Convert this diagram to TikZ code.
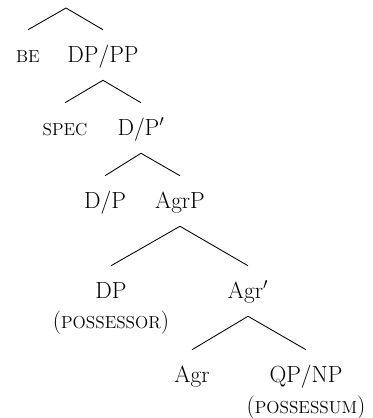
\documentclass[tikz,border=0pt]{standalone}
\usepackage{fontspec}
\setmainfont{Latin Modern Roman}
\newcommand\fakesc[1]{{\fontsize{13}{15}\selectfont\uppercase{#1}}}
\begin{document}
\begin{tikzpicture}[x=0.75pt,y=-0.75pt,
  lab/.style={anchor=base,inner sep=0pt,text height=24pt,text depth=13.5pt,font=\fontsize{17.5}{20}\selectfont},
  sub/.style={anchor=base,inner sep=0pt,font=\fontsize{17.5}{20}\selectfont},
  branch/.style={draw=black,line width=0.65pt}]
\useasboundingbox (0,0) rectangle (373,418);
\coordinate (top) at (66,8);
\node[lab] (be) at (28,62) {\fakesc{be}};
\node[lab] (dppp) at (103,62) {DP/PP};
\node[lab] (spec) at (65,135) {\fakesc{spec}};
\node[lab] (dpbar) at (141,135) {D/P$'$};
\node[lab] (dp1) at (105,208) {D/P};
\node[lab] (agrp) at (180,208) {AgrP};
\node[lab] (dp2) at (111,298) {DP};
\node[sub] (poss) at (111,328) {(\fakesc{possessor})};
\node[lab] (agrbar) at (248,298) {Agr$'$};
\node[lab] (agr) at (192,382) {Agr};
\node[lab] (qpnp) at (306,382) {QP/NP};
\node[sub] (possum) at (306,413) {(\fakesc{possessum})};
\draw[branch] (be.north) -- (top) -- (dppp.north);
\draw[branch] (spec.north) -- (dppp.south) -- (dpbar.north);
\draw[branch] (dp1.north) -- (dpbar.south) -- (agrp.north);
\draw[branch] (dp2.north) -- (agrp.south) -- (agrbar.north);
\draw[branch] (agr.north) -- (agrbar.south) -- (qpnp.north);
\end{tikzpicture}
\end{document}
